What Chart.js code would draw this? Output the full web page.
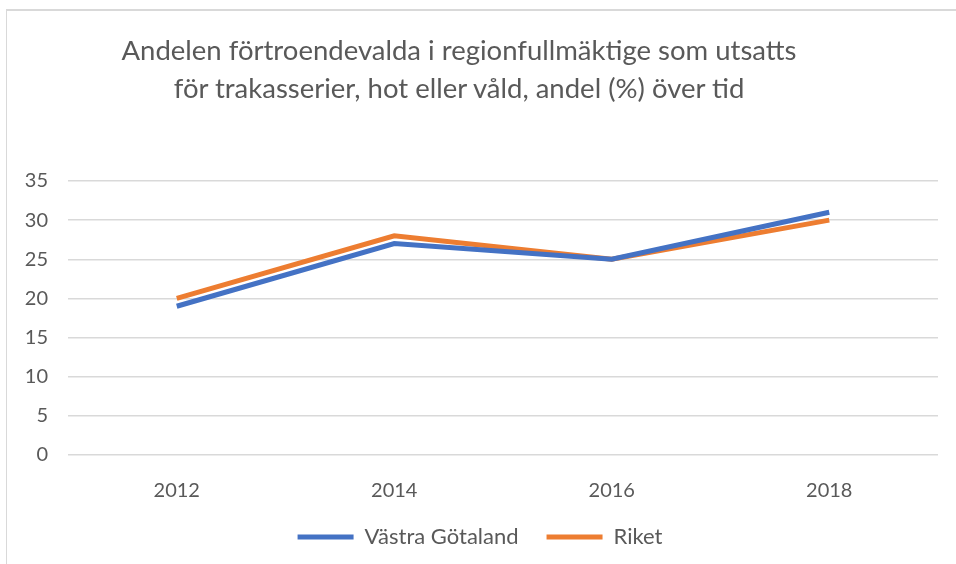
<!DOCTYPE html>
<html>
<head>
<meta charset="utf-8">
<script src="https://cdn.jsdelivr.net/npm/chart.js@4"></script>
<style>
  html, body { margin: 0; padding: 0; background: #fff; }
  #wrap { position: relative; width: 956px; height: 564px; }
  #chart { position: absolute; left: 0; top: 0; }
  #title { position: absolute; left: 0; top: 31px; width: 918px; text-align: center;
           font-family: Lato, "Open Sans", sans-serif; font-size: 27.5px; line-height: 38px; color: #595959; }
  #frame { position: absolute; left: 6px; top: 9px; right: 0; bottom: 0;
           border-left: 1px solid #d9d9d9; border-top: 2px solid #d9d9d9; pointer-events: none; }
</style>
</head>
<body>
<div id="wrap">
  <canvas id="chart" width="956" height="564"></canvas>
  <div id="title"></div>
  <div id="frame"></div>
</div>
<script>
const years = ['2012', '2014', '2016', '2018'];
const vastraGotaland = [19, 27, 25, 31];
const riket = [20, 28, 25, 30];
const titleLines = ['Andelen förtroendevalda i regionfullmäktige som utsatts', 'för trakasserier, hot eller våld, andel (%) över tid'];

const textColor = '#595959';
const fontFamily = 'Lato, "Open Sans", sans-serif';

document.getElementById('title').innerHTML = titleLines.join('<br>');

const ctx = document.getElementById('chart').getContext('2d');
new Chart(ctx, {
  type: 'line',
  data: {
    labels: years,
    datasets: [
      {
        label: 'Västra Götaland',
        data: vastraGotaland,
        borderColor: '#4472C4',
        backgroundColor: '#4472C4',
        borderWidth: 5,
        pointRadius: 0,
        tension: 0
      },
      {
        label: 'Riket',
        data: riket,
        borderColor: '#ED7D31',
        backgroundColor: '#ED7D31',
        borderWidth: 5,
        pointRadius: 0,
        tension: 0
      }
    ]
  },
  options: {
    responsive: false,
    animation: false,
    layout: { padding: { left: 22, right: 18, top: 181, bottom: 6 } },
    plugins: {
      legend: {
        position: 'bottom',
        labels: {
          color: textColor,
          font: { family: fontFamily, size: 22 },
          usePointStyle: true,
          pointStyle: 'line',
          pointStyleWidth: 56,
          boxWidth: 42,
          boxHeight: 10,
          padding: 28
        }
      },
      tooltip: { enabled: false }
    },
    scales: {
      x: {
        offset: true,
        grid: { display: false },
        border: { display: false },
        ticks: { color: textColor, font: { family: fontFamily, size: 20 }, padding: 16 },
        afterFit: scale => { scale.height = 43; }
      },
      y: {
        min: 0,
        max: 35,
        ticks: { stepSize: 5, color: textColor, font: { family: fontFamily, size: 20 }, padding: 20 },
        grid: { color: '#d9d9d9', lineWidth: 1.5, drawTicks: false },
        border: { display: false },
        afterFit: scale => { scale.width = 46; }
      }
    }
  }
});
</script>
</body>
</html>
